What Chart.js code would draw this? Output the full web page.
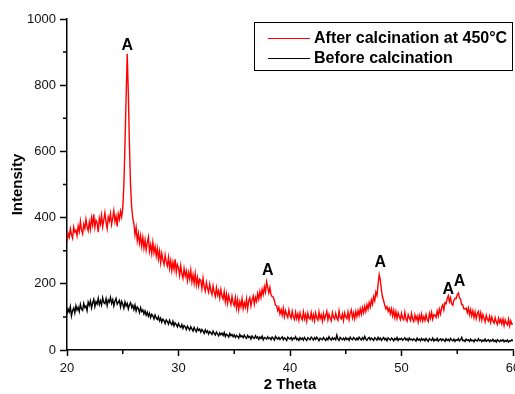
<!DOCTYPE html>
<html>
<head>
<meta charset="utf-8">
<script src="https://cdn.jsdelivr.net/npm/chart.js@4"></script>
<style>
  html, body { margin: 0; padding: 0; background: #fff; }
  #xrd { display: block; }
</style>
</head>
<body>
<canvas id="xrd" width="515" height="394"></canvas>
<script>
// ---------------- Daten ----------------
const twoThetaStart = 20;
const twoThetaStep = 0.1;   // 20.0 ... 60.0, eine Zeile = 1 Grad

const afterCalcination = [
    328, 352, 341, 366, 349, 338, 371, 356, 362, 345,
    374, 358, 389, 362, 351, 380, 367, 395, 372, 360,
    386, 365, 399, 378, 410, 371, 392, 384, 356, 398,
    381, 407, 372, 393, 415, 386, 367, 402, 390, 412,
    379, 398, 421, 388, 404, 373, 411, 395, 419, 402,
    428, 498, 622, 758, 895, 776, 618, 497, 432, 398,
    381, 348, 370, 330, 352, 322, 345, 314, 340, 308,
    332, 302, 324, 341, 298, 318, 292, 325, 294, 312,
    284, 307, 275, 298, 264, 292, 272, 258, 287, 266,
    254, 280, 247, 270, 240, 265, 244, 274, 235, 258,
    249, 225, 255, 231, 217, 246, 224, 239, 210, 234,
    215, 241, 206, 227, 201, 231, 197, 219, 194, 214,
    210, 185, 217, 192, 178, 204, 186, 174, 199, 180,
    168, 194, 175, 162, 188, 166, 179, 157, 183, 163,
    154, 177, 146, 169, 141, 165, 150, 137, 162, 143,
    134, 158, 127, 152, 122, 146, 131, 155, 125, 143,
    129, 154, 124, 149, 158, 133, 152, 163, 138, 159,
    147, 171, 154, 177, 159, 183, 168, 191, 175, 206,
    189, 173, 189, 167, 161, 160, 149, 135, 134, 119,
    129, 109, 122, 105, 126, 101, 119, 107, 98, 121,
    104, 96, 117, 99, 92, 114, 95, 109, 90, 112,
    98, 91, 115, 94, 108, 87, 111, 96, 93, 113,
    92, 107, 88, 112, 97, 90, 115, 95, 106, 87,
    110, 93, 104, 117, 91, 108, 96, 88, 113, 99,
    93, 111, 97, 90, 118, 98, 94, 109, 89, 112,
    100, 95, 115, 92, 110, 121, 97, 112, 94, 116,
    101, 119, 105, 124, 108, 128, 113, 132, 117, 137,
    123, 143, 130, 151, 138, 161, 149, 175, 165, 198,
    228, 212, 181, 160, 148, 135, 124, 131, 117, 126,
    109, 124, 103, 120, 98, 116, 95, 112, 101, 92,
    111, 96, 91, 114, 94, 87, 107, 97, 89, 110,
    93, 86, 106, 91, 102, 84, 104, 90, 108, 88,
    101, 89, 107, 92, 86, 110, 96, 114, 93, 107,
    105, 98, 118, 103, 123, 109, 129, 136, 121, 143,
    140, 155, 164, 146, 158, 139, 135, 150, 156, 155,
    167, 172, 157, 154, 137, 136, 124, 124, 127, 113,
    127, 107, 122, 103, 118, 98, 115, 95, 111, 117,
    94, 112, 90, 107, 97, 85, 105, 92, 87, 102,
    83, 100, 88, 81, 98, 85, 77, 96, 83, 93,
    79, 94, 74, 91, 81, 76, 93, 73, 88, 78,
    80
];

const beforeCalcination = [
    108, 124, 115, 131, 103, 119, 127, 112, 134, 121,
    129, 116, 138, 124, 120, 141, 128, 133, 119, 145,
    135, 148, 127, 142, 153, 131, 146, 139, 156, 137,
    149, 136, 158, 143, 140, 155, 134, 151, 145, 159,
    141, 152, 133, 148, 156, 138, 144, 150, 130, 147,
    139, 126, 145, 133, 141, 124, 137, 143, 128, 135,
    122, 136, 118, 130, 125, 113, 128, 116, 121, 109,
    118, 105, 114, 102, 111, 98, 108, 103, 94, 106,
    97, 92, 101, 88, 96, 84, 93, 89, 80, 91,
    86, 78, 90, 81, 76, 87, 73, 82, 77, 70,
    80, 72, 68, 77, 65, 74, 70, 62, 72, 66,
    60, 70, 64, 57, 68, 61, 55, 66, 59, 63,
    54, 62, 57, 50, 61, 53, 58, 48, 56, 52,
    47, 57, 50, 45, 54, 49, 43, 52, 46, 51,
    44, 53, 41, 48, 45, 39, 50, 43, 47, 40,
    46, 38, 44, 41, 36, 47, 40, 43, 37, 45,
    39, 35, 44, 38, 41, 33, 42, 37, 35, 43,
    36, 40, 32, 39, 35, 42, 31, 38, 36, 33,
    40, 34, 37, 31, 39, 35, 30, 41, 36, 33,
    38, 32, 36, 40, 31, 37, 34, 29, 39, 35,
    33, 38, 30, 36, 34, 40, 31, 35, 29, 37,
    32, 36, 30, 38, 33, 29, 37, 34, 31, 39,
    35, 30, 37, 32, 39, 34, 28, 36, 33, 31,
    38, 33, 29, 36, 31, 40, 34, 30, 37, 32,
    36, 31, 45, 33, 29, 38, 34, 31, 36, 30,
    37, 32, 35, 29, 39, 33, 31, 38, 34, 30,
    36, 31, 39, 34, 30, 37, 32, 41, 33, 29,
    35, 38, 31, 36, 33, 29, 37, 34, 30, 38,
    32, 36, 29, 34, 38, 31, 35, 28, 37, 33,
    30, 36, 33, 28, 35, 31, 38, 29, 34, 32,
    35, 29, 33, 37, 30, 34, 28, 36, 31, 33,
    29, 34, 31, 27, 36, 30, 33, 28, 35, 30,
    33, 28, 35, 30, 26, 34, 31, 29, 36, 27,
    32, 29, 35, 27, 31, 34, 28, 33, 30, 26,
    34, 29, 32, 27, 35, 30, 28, 33, 26, 31,
    29, 34, 27, 31, 38, 28, 30, 26, 33, 29,
    31, 26, 33, 28, 30, 25, 32, 29, 27, 34,
    28, 31, 25, 30, 27, 33, 26, 29, 31, 25,
    30, 27, 32, 26, 29, 24, 31, 28, 25, 30,
    27, 31, 25, 29, 26, 30, 24, 28, 27, 31,
    27
];

const seriesLabels = ["After calcination at 450°C", "Before calcination"];
const seriesColors = ["#ff0000", "#000000"];

// Peak-Markierungen (Anatas)
const peakLabels = ["A", "A", "A", "A", "A"];
const peakAngles = [25.4, 38.0, 48.1, 54.2, 55.2];
const peakLabelHeights = [921, 239, 263, 184, 208];

const xMajorTicks = [20, 30, 40, 50, 60];
const xMinorTicks = [25, 35, 45, 55];
const yMajorTicks = [0, 200, 400, 600, 800, 1000];
const yMinorTicks = [100, 300, 500, 700, 900];

const fontFamily = "'Liberation Sans', Arial, sans-serif";

function toPoints(values) {
    return values.map((v, i) => ({ x: twoThetaStart + i * twoThetaStep, y: v }));
}

// ---------------- Plugins ----------------
const minorTicksPlugin = {
    id: "minorTicks",
    afterDraw(chart) {
        const ctx = chart.ctx;
        const xs = chart.scales.x, ys = chart.scales.y;
        const area = chart.chartArea;
        ctx.save();
        ctx.strokeStyle = "#000";
        ctx.lineWidth = 1.5;
        ctx.beginPath();
        xMinorTicks.forEach(v => {
            const px = xs.getPixelForValue(v);
            ctx.moveTo(px, area.bottom);
            ctx.lineTo(px, area.bottom + 4);
        });
        yMinorTicks.forEach(v => {
            const py = ys.getPixelForValue(v);
            ctx.moveTo(area.left, py);
            ctx.lineTo(area.left - 4, py);
        });
        ctx.stroke();
        ctx.restore();
    }
};

const peakLabelPlugin = {
    id: "peakLabels",
    afterDatasetsDraw(chart) {
        const ctx = chart.ctx;
        ctx.save();
        ctx.fillStyle = "#000";
        ctx.font = "bold 16px " + fontFamily;
        ctx.textAlign = "center";
        ctx.textBaseline = "middle";
        peakLabels.forEach((t, i) => {
            ctx.fillText(t,
                chart.scales.x.getPixelForValue(peakAngles[i]),
                chart.scales.y.getPixelForValue(peakLabelHeights[i]));
        });
        ctx.restore();
    }
};

const boxLegendPlugin = {
    id: "boxLegend",
    afterDraw(chart) {
        const ctx = chart.ctx;
        const left = 254.5, top = 22.5, w = 258, h = 48;
        ctx.save();
        ctx.fillStyle = "#fff";
        ctx.fillRect(left, top, w, h);
        ctx.strokeStyle = "#000";
        ctx.lineWidth = 1;
        ctx.strokeRect(left, top, w, h);
        ctx.font = "bold 16px " + fontFamily;
        ctx.textBaseline = "middle";
        chart.data.datasets.forEach((ds, i) => {
            const y = 38.5 + i * 20;
            ctx.strokeStyle = ds.borderColor;
            ctx.lineWidth = 1.2;
            ctx.beginPath();
            ctx.moveTo(268, y);
            ctx.lineTo(310, y);
            ctx.stroke();
            ctx.fillStyle = "#000";
            ctx.fillText(ds.label, 314, y);
        });
        ctx.restore();
    }
};

// ---------------- Diagramm ----------------
new Chart(document.getElementById("xrd").getContext("2d"), {
    type: "line",
    data: {
        datasets: [
            {
                label: seriesLabels[0],
                data: toPoints(afterCalcination),
                borderColor: seriesColors[0],
                borderWidth: 1.4,
                pointRadius: 0,
                tension: 0
            },
            {
                label: seriesLabels[1],
                data: toPoints(beforeCalcination),
                borderColor: seriesColors[1],
                borderWidth: 1.4,
                pointRadius: 0,
                tension: 0
            }
        ]
    },
    options: {
        responsive: false,
        animation: false,
        layout: { padding: { top: 19, right: 2, left: 0, bottom: 0 } },
        plugins: { legend: { display: false }, tooltip: { enabled: false } },
        scales: {
            x: {
                type: "linear",
                min: 20,
                max: 60,
                afterBuildTicks: s => { s.ticks = xMajorTicks.map(v => ({ value: v })); },
                afterFit: s => { s.height = 44; s.paddingLeft = 0; s.paddingRight = 0; },
                grid: { drawOnChartArea: false, tickLength: 6, tickColor: "#000", tickWidth: 1.5 },
                border: { color: "#000", width: 1.5 },
                ticks: {
                    color: "#111", padding: 5, maxRotation: 0,
                    font: { family: fontFamily, size: 13 },
                    callback: v => String(v)
                },
                title: {
                    display: true,
                    text: "2 Theta",
                    color: "#000",
                    padding: { top: 0, bottom: 0 },
                    font: { family: fontFamily, size: 15, weight: "bold" }
                }
            },
            y: {
                min: 0,
                max: 1000,
                afterBuildTicks: s => { s.ticks = yMajorTicks.map(v => ({ value: v })); },
                afterFit: s => { s.width = 67; s.paddingTop = 0; s.paddingBottom = 0; },
                grid: { drawOnChartArea: false, tickLength: 7, tickColor: "#000", tickWidth: 1.5 },
                border: { color: "#000", width: 1.5 },
                ticks: {
                    color: "#111", padding: 4,
                    font: { family: fontFamily, size: 13 },
                    callback: v => String(v)
                },
                title: {
                    display: true,
                    text: "Intensity",
                    color: "#000",
                    padding: { top: 9, bottom: 0 },
                    font: { family: fontFamily, size: 15, weight: "bold" }
                }
            }
        }
    },
    plugins: [minorTicksPlugin, peakLabelPlugin, boxLegendPlugin]
});
</script>
</body>
</html>
